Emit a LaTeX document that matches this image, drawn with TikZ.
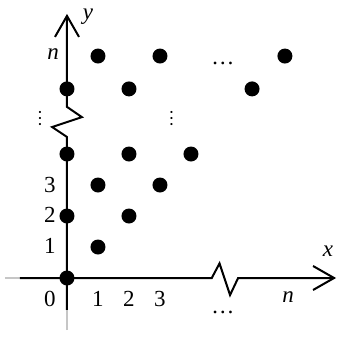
\documentclass[tikz,border=0pt]{standalone}
\usepackage{fontspec}
\setmainfont{Liberation Serif}
\usetikzlibrary{arrows.meta}
\newcommand{\vdotsfig}{\rotatebox{90}{\fontsize{18}{20}\selectfont …}}
\begin{document}
\begin{tikzpicture}[
    x=31pt, y=31pt,
    every node/.style={font=\fontsize{23}{27}\selectfont},
    dot/.style={circle, fill=black, minimum size=15pt, inner sep=0pt},
    axis/.style={line width=2pt},
    fade/.style={line width=2pt, gray!45},
    tip/.style={-{Straight Barb[length=21pt, width=24pt]}}
]
\useasboundingbox (-2.161,-1.903) rectangle (8.71,8.968);

% Axis points
\coordinate (xstart) at (-2.0, 0);
\coordinate (xleft) at (-1.52, 0);
\coordinate (xz1) at (4.67, 0);
\coordinate (xz2) at (4.92, 0.47);
\coordinate (xz3) at (5.26, -0.55);
\coordinate (xz4) at (5.52, 0);
\coordinate (xend) at (8.68, 0);
\coordinate (ystart) at (0, -1.68);
\coordinate (ylow) at (0, -1.03);
\coordinate (yz1) at (0, 4.55);
\coordinate (yz2) at (-0.48, 4.87);
\coordinate (yz3) at (0.48, 5.19);
\coordinate (yz4) at (0, 5.52);
\coordinate (yend) at (0, 8.52);

% Axes with breaks
\draw[fade] (xstart) -- (xleft);
\draw[fade] (ystart) -- (ylow);
\draw[axis, tip] (xleft) -- (xz1) -- (xz2) -- (xz3) -- (xz4) -- (xend);
\draw[axis, tip] (ylow) -- (yz1) -- (yz2) -- (yz3) -- (yz4) -- (yend);

% Lattice points
\node[dot] (p00) at (0, 0) {};
\node[dot] (p11) at (1, 1) {};
\node[dot] (p02) at (0, 2) {};
\node[dot] (p22) at (2, 2) {};
\node[dot] (p13) at (1, 3) {};
\node[dot] (p33) at (3, 3) {};
\node[dot] (p04) at (0, 4) {};
\node[dot] (p24) at (2, 4) {};
\node[dot] (p44) at (4, 4) {};

% Upper rows (after the break)
\node[dot] (q0) at (0, 6.1) {};
\node[dot] (q2) at (2, 6.1) {};
\node[dot] (q6) at (5.97, 6.1) {};
\node[dot] (r1) at (1, 7.16) {};
\node[dot] (r3) at (3, 7.16) {};
\node[dot] (r7) at (7.03, 7.16) {};

% Axis labels
\node (ylab) at (0.68, 8.42) {\textit{y}};
\node (xlab) at (8.42, 0.87) {\textit{x}};
\node (nleft) at (-0.45, 7.23) {\textit{n}};
\node (nright) at (7.13, -0.61) {\textit{n}};

% Ticks
\node (t0) at (-0.55, -0.68) {0};
\node (tx1) at (1, -0.68) {1};
\node (tx2) at (2, -0.68) {2};
\node (tx3) at (3, -0.68) {3};
\node (ty1) at (-0.55, 1.03) {1};
\node (ty2) at (-0.55, 2.03) {2};
\node (ty3) at (-0.55, 3.0) {3};

% Ellipses
\node (vleft) at (-0.87, 5.16) {\vdotsfig};
\node (vmid) at (3.37, 5.16) {\vdotsfig};
\node[anchor=base] (htop) at (5.03, 6.9) {…};
\node[anchor=base] (hbot) at (5.03, -1.13) {…};

\end{tikzpicture}
\end{document}
